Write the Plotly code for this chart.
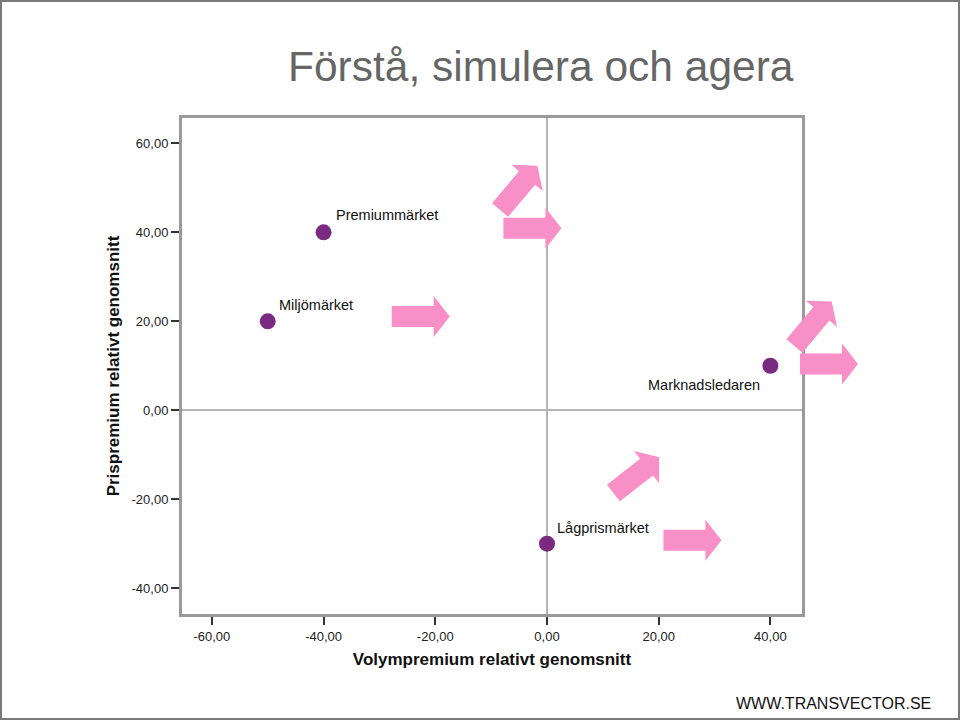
import math
import plotly.graph_objects as go

# ---- data ----
brands = ["Premiummärket", "Miljömärket", "Marknadsledaren", "Lågprismärket"]
volume_premium = [-40, -50, 40, 0]
price_premium = [40, 20, 10, -30]

x_tick_vals = [-60, -40, -20, 0, 20, 40]
x_tick_text = ["-60,00", "-40,00", "-20,00", "0,00", "20,00", "40,00"]
y_tick_vals = [60, 40, 20, 0, -20, -40]
y_tick_text = ["60,00", "40,00", "20,00", "0,00", "-20,00", "-40,00"]

# arrow decorations: tail (data coords) and visual angle in degrees
arrow_tail_x = [-27.8, -7.8, 45.3, 20.85, -8.4, 44.3, 11.9]
arrow_tail_y = [21.1, 40.9, 10.4, -29.2, 45.0, 14.45, -18.6]
arrow_angle = [0, 0, 0, 0, 50, 50, 38]

# ---- layout geometry ----
W, H = 960, 720
L, R, T, B = 182, 158, 118, 106
PW, PH = W - L - R, H - T - B
XR = [-65.35, 45.66]
YR = [-45.8, 65.7]


def data_to_px(x, y):
    px = L + (x - XR[0]) / (XR[1] - XR[0]) * PW
    py = T + (YR[1] - y) / (YR[1] - YR[0]) * PH
    return px, py


def px_to_paper(px, py):
    return (px - L) / PW, (H - B - py) / PH


def arrow_path(x, y, ang, length=58, head_len=16, shaft_hw=10.5, head_hw=20.5):
    tx, ty = data_to_px(x, y)
    th = math.radians(ang)
    pts_local = [(0, -shaft_hw), (length - head_len, -shaft_hw), (length - head_len, -head_hw),
                 (length, 0), (length - head_len, head_hw), (length - head_len, shaft_hw), (0, shaft_hw)]
    pts = []
    for u, v in pts_local:
        px = tx + u * math.cos(th) - v * math.sin(th)
        py = ty - (u * math.sin(th) + v * math.cos(th))
        pts.append(px_to_paper(px, py))
    return "M " + " L ".join(f"{a:.5f},{b:.5f}" for a, b in pts) + " Z"


FONT = "Liberation Sans, Arial, sans-serif"
PURPLE = "#7A2A80"
PINK = "#F98FC7"

fig = go.Figure()
fig.add_trace(go.Scatter(
    x=volume_premium, y=price_premium, mode="markers",
    marker=dict(size=16, color=PURPLE, line=dict(width=0)),
    hoverinfo="text", text=brands, showlegend=False,
))

shapes = []
for ax_, ay_, ang in zip(arrow_tail_x, arrow_tail_y, arrow_angle):
    shapes.append(dict(type="path", xref="paper", yref="paper", path=arrow_path(ax_, ay_, ang),
                       fillcolor=PINK, line=dict(width=0), layer="above"))
# slide border
x0p, y0p = px_to_paper(1, 1)
x1p, y1p = px_to_paper(959, 719)
shapes.append(dict(type="rect", xref="paper", yref="paper", x0=x0p, y0=y1p, x1=x1p, y1=y0p,
                   line=dict(color="#7a7a7a", width=2), fillcolor="rgba(0,0,0,0)", layer="below"))

# point labels: (xanchor, xshift, yshift)
label_pos = {
    "Premiummärket": ("left", 10, 17),
    "Miljömärket": ("left", 9, 16),
    "Marknadsledaren": ("right", -8, -19),
    "Lågprismärket": ("left", 8, 16),
}
annotations = []
for name, xv, yv in zip(brands, volume_premium, price_premium):
    xa, xs, ys = label_pos[name]
    annotations.append(dict(x=xv, y=yv, xref="x", yref="y", text=name, showarrow=False,
                            xanchor=xa, yanchor="middle", xshift=xs, yshift=ys,
                            font=dict(family=FONT, size=14.5, color="#111111")))

tx, ty = px_to_paper(540.5, 66)
annotations.append(dict(x=tx, y=ty, xref="paper", yref="paper", text="Förstå, simulera och agera",
                        showarrow=False, xanchor="center", yanchor="middle",
                        font=dict(family=FONT, size=42.5, color="#666666")))
wx, wy = px_to_paper(933, 703)
annotations.append(dict(x=wx, y=wy, xref="paper", yref="paper", text="WWW.TRANSVECTOR.SE",
                        showarrow=False, xanchor="right", yanchor="middle",
                        font=dict(family=FONT, size=16, color="#111111")))

axis_common = dict(
    showgrid=False, zeroline=True, zerolinecolor="#b5b5b5", zerolinewidth=2,
    showline=True, linecolor="#9a9a9a", linewidth=3, mirror=True,
    ticks="outside", ticklen=8, tickwidth=2, tickcolor="#333333",
    tickfont=dict(family=FONT, size=13, color="#222222"),
)

fig.update_layout(
    width=W, height=H, margin=dict(l=L, r=R, t=T, b=B),
    paper_bgcolor="white", plot_bgcolor="white",
    xaxis=dict(range=XR, tickmode="array", tickvals=x_tick_vals, ticktext=x_tick_text,
               title=dict(text="<b>Volympremium relativt genomsnitt</b>", standoff=11,
                          font=dict(family=FONT, size=17, color="#111111")),
               **axis_common),
    yaxis=dict(range=YR, tickmode="array", tickvals=y_tick_vals, ticktext=y_tick_text,
               title=dict(text="<b>Prispremium relativt genomsnitt</b>", standoff=8,
                          font=dict(family=FONT, size=17, color="#111111")),
               **axis_common),
    shapes=shapes, annotations=annotations, showlegend=False,
)

fig.write_html("out.html")
